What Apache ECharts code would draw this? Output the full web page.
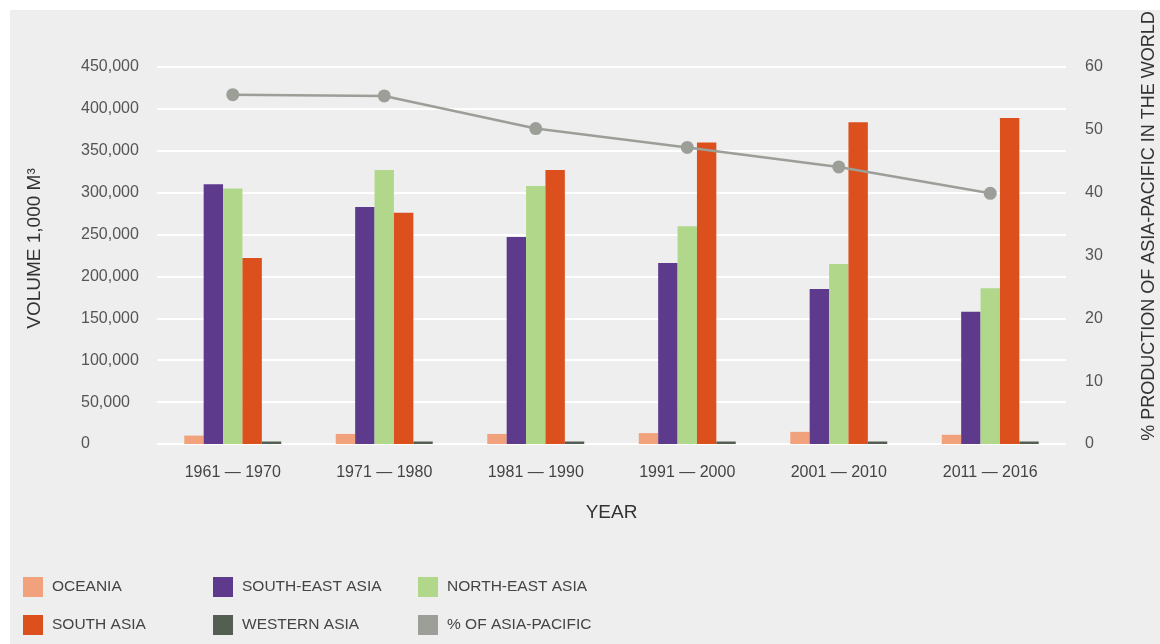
<!DOCTYPE html>
<html>
<head>
<meta charset="utf-8">
<title>Asia-Pacific production by decade</title>
<script src="https://cdn.jsdelivr.net/npm/echarts@6/dist/echarts.min.js"></script>
<style>
  html, body { margin: 0; padding: 0; background: #ffffff; }
  #chart { position: absolute; left: 10px; top: 10px; width: 1150px; height: 634px; background: #eeeeee; }
</style>
</head>
<body>
<div id="chart"></div>
<script>
// decades on the x axis
var years = ['1961 — 1970', '1971 — 1980', '1981 — 1990', '1991 — 2000', '2001 — 2010', '2011 — 2016'];

// volume, 1,000 m3
var oceania       = [10000, 12000, 12000, 13000, 14500, 11000];
var southEastAsia = [310000, 283000, 247000, 216000, 185000, 158000];
var northEastAsia = [305000, 327000, 308000, 260000, 215000, 186000];
var southAsia     = [222000, 276000, 327000, 360000, 384000, 389000];
var westernAsia   = [3000, 3000, 3000, 3000, 3000, 3000];

// % of world production
var asiaPacificPct = [55.6, 55.4, 50.2, 47.2, 44.1, 39.9];

var chart = {
	font : 'Liberation Sans, Arial, sans-serif',

	init : function(){
		var myChart = echarts.init(document.getElementById('chart'));
		myChart.setOption(chart.options());
	},

	bar : function(name, data, color){
		return {
			name : name,
			type : 'bar',
			yAxisIndex : 0,
			barGap : '0%',
			barCategoryGap : '36%',
			itemStyle : { color : color },
			data : data
		};
	},

	legend : function(name, left, top){
		return {
			data : [name],
			left : left,
			top : top,
			icon : 'rect',
			itemWidth : 20,
			itemHeight : 20,
			textStyle : { color : '#444', fontSize : 15.5, fontFamily : chart.font, padding : [0, 0, 0, 4] }
		};
	},

	options : function(){
		return {
			backgroundColor : '#eeeeee',
			animation : false,
			textStyle : { fontFamily : chart.font },
			grid : { left : 147, right : 94, top : 57, bottom : 200, outerBoundsMode : 'none' },
			legend : [
				chart.legend('OCEANIA', 8, 562),
				chart.legend('SOUTH-EAST ASIA', 198, 562),
				chart.legend('NORTH-EAST ASIA', 403, 562),
				chart.legend('SOUTH ASIA', 8, 600),
				chart.legend('WESTERN ASIA', 198, 600),
				chart.legend('% OF ASIA-PACIFIC', 403, 600)
			],
			xAxis : {
				type : 'category',
				data : years,
				axisLine : { show : false },
				axisTick : { show : false },
				axisLabel : { color : '#444', fontSize : 16, margin : 21 },
				name : 'YEAR',
				nameLocation : 'middle',
				nameGap : 59,
				nameTextStyle : { color : '#333', fontSize : 19 }
			},
			yAxis : [
				{
					type : 'value',
					min : 0,
					max : 450000,
					interval : 50000,
					axisLine : { show : false },
					axisTick : { show : false },
					splitLine : { lineStyle : { color : '#ffffff', width : 2 } },
					axisLabel : {
						color : '#555',
						fontSize : 16,
						align : 'left',
						margin : 76,
						formatter : function(v){ return v.toLocaleString('en-US'); }
					},
					name : 'VOLUME 1,000 M³',
					nameLocation : 'middle',
					nameGap : 113,
					nameRotate : 90,
					nameTextStyle : { color : '#333', fontSize : 19, padding : [0, 0, 0, 14] }
				},
				{
					type : 'value',
					position : 'right',
					min : 0,
					max : 60,
					interval : 10,
					axisLine : { show : false },
					axisTick : { show : false },
					splitLine : { show : false },
					axisLabel : { color : '#555', fontSize : 16, align : 'left', margin : 19 },
					name : '% PRODUCTION OF ASIA-PACIFIC IN THE WORLD',
					nameLocation : 'middle',
					nameGap : 74,
					nameRotate : 90,
					nameTextStyle : { color : '#333', fontSize : 18, padding : [0, 0, 0, 59] }
				}
			],
			series : [
				chart.bar('OCEANIA', oceania, '#f1a27c'),
				chart.bar('SOUTH-EAST ASIA', southEastAsia, '#5d3a8c'),
				chart.bar('NORTH-EAST ASIA', northEastAsia, '#b1d88a'),
				chart.bar('SOUTH ASIA', southAsia, '#db501d'),
				chart.bar('WESTERN ASIA', westernAsia, '#545e52'),
				{
					name : '% OF ASIA-PACIFIC',
					type : 'line',
					yAxisIndex : 1,
					symbol : 'circle',
					symbolSize : 13,
					itemStyle : { color : '#9c9f98' },
					lineStyle : { color : '#9c9f98', width : 2.5 },
					data : asiaPacificPct
				}
			]
		};
	}
};

chart.init();
</script>
</body>
</html>
